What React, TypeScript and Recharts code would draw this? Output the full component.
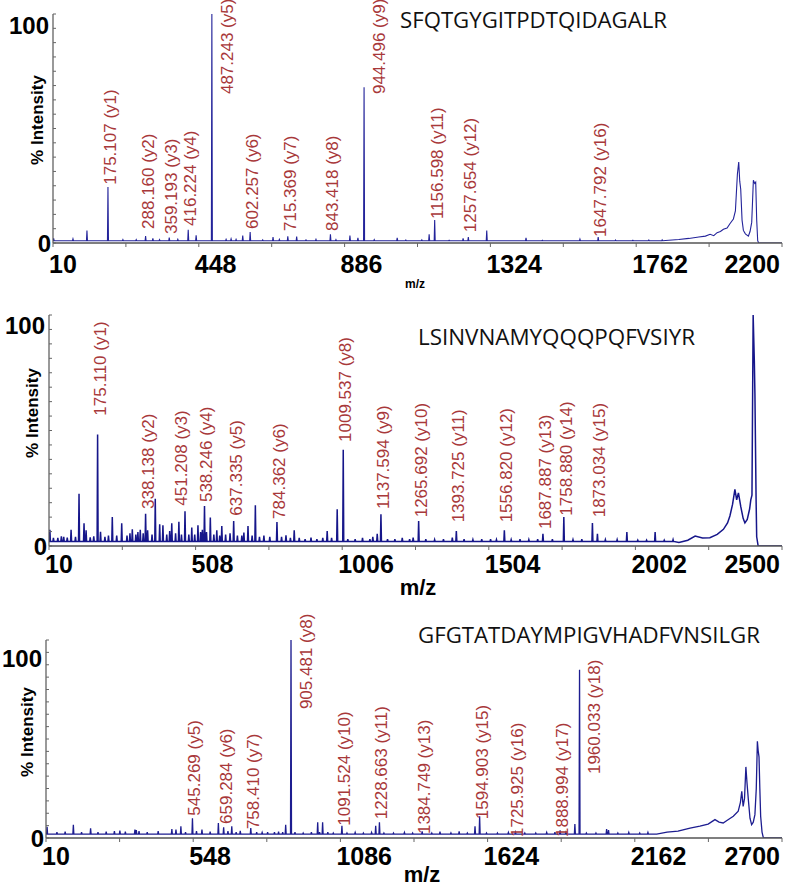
import React from 'react';
import { ComposedChart, Line, XAxis, YAxis, ReferenceDot } from 'recharts';

type Pt = [number, number];
type Ann = [number, string, number];

// ---------- Panel 1 : SFQTGYGITPDTQIDAGALR ----------
const title1 = 'SFQTGYGITPDTQIDAGALR';
const peaks1: Pt[] = [
  [12, 2], [70, 1.8], [112, 5.5], [175.107, 24.5], [220, 1.5], [260, 1.5], [288.16, 3],
  [310, 2], [330, 1.5], [359.193, 2.4], [385, 1.6], [416.224, 5.8], [440, 3.4], [487.243, 100],
  [530, 1.6], [545, 1.8], [560, 1.6], [580, 3.2], [602.257, 4.8], [640, 1.4], [671, 2.6],
  [690, 1.6], [715.369, 2.9], [742, 2.8], [770, 1.4], [800, 1.6], [843.418, 3.8], [860, 1.5],
  [902, 3.2], [926, 2.3], [944.496, 68], [975, 1.5], [1044, 2.2], [1070, 1.3], [1118, 1.4],
  [1140, 3.8], [1156.598, 10], [1200, 1.2], [1242, 2], [1257.654, 2.6], [1313, 5.5],
  [1431, 2.2], [1480, 1.2], [1593, 1.7], [1647.792, 2.6], [1700, 1.3], [1752, 1.2],
  [1800, 1.3], [1840, 1.4],
];
const profile1: Pt[] = [
  [1860, 1.2], [1890, 1.5], [1920, 2], [1950, 2.6], [1970, 3], [1984, 3.8], [1995, 3.2],
  [2005, 4.5], [2015, 5], [2024, 6], [2035, 6.5], [2044, 8.5], [2054, 10.5], [2060, 14],
  [2066, 30], [2070, 35.4], [2073, 27], [2076, 23.5], [2080, 10], [2084, 5.5], [2090, 4],
  [2099, 3], [2104, 5], [2109, 9], [2112, 20], [2114, 27.4], [2118, 26], [2121, 26.6],
  [2124, 10], [2127, 1], [2130, 0], [2200, 0],
];
const annotations1: Ann[] = [
  [175.107, '175.107 (y1)', 25], [288.16, '288.160 (y2)', 5.7], [359.193, '359.193 (y3)', 3.5],
  [416.224, '416.224 (y4)', 7], [487.243, '487.243 (y5)', 64.6], [602.257, '602.257 (y6)', 5.7],
  [715.369, '715.369 (y7)', 4.8], [843.418, '843.418 (y8)', 4.8], [944.496, '944.496 (y9)', 64.6],
  [1156.598, '1156.598 (y11)', 10], [1257.654, '1257.654 (y12)', 4.3], [1647.792, '1647.792 (y16)', 2.2],
];
const xTicks1 = [10, 229, 448, 667, 886, 1105, 1324, 1543, 1762, 1981, 2200];
const xLabels1 = [10, 448, 886, 1324, 1762, 2200];

// ---------- Panel 2 : LSINVNAMYQQQPQFVSIYR ----------
const title2 = 'LSINVNAMYQQQPQFVSIYR';
const peaks2: Pt[] = [
  [13, 7], [25, 3.5], [40, 3.5], [52, 4.2], [60, 4], [72, 3.6], [85, 7], [100, 4], [112, 22.6],
  [129, 9.8], [136, 6.8], [150, 3.8], [162, 4.2], [175.11, 48.3], [185, 6.2], [200, 4],
  [212, 4.5], [225, 12.5], [240, 4.5], [257, 9.8], [275, 4.5], [285, 5.5], [293, 7.2],
  [305, 5], [312, 6], [320, 7], [330, 5.5], [338.138, 14], [345, 6.8], [360, 5], [371, 20.5],
  [386, 9.4], [397, 9], [410, 5], [420, 6.5], [427, 9.8], [440, 5.5], [451.208, 10.5],
  [460, 5], [472, 15], [485, 5], [495, 8], [505, 5], [516, 9], [525, 6], [531, 7],
  [538.246, 17.3], [545, 6], [558, 12.3], [570, 5], [580, 6.8], [590, 4.5], [597, 8.7],
  [610, 5], [625, 5.5], [637.335, 10.8], [650, 4.5], [665, 4.5], [672, 5.8], [686, 8.7],
  [700, 4.5], [711, 17.6], [725, 4], [740, 4.5], [760, 4], [784.362, 10.4], [800, 4],
  [815, 4.6], [830, 3.5], [843, 6.8], [860, 3.5], [880, 3], [900, 3.6], [920, 3], [940, 3.5],
  [955, 6.5], [970, 3.5], [989, 15.9], [1009.537, 41.7], [1025, 3], [1050, 3], [1075, 3.5],
  [1100, 3], [1110, 4], [1125, 5.3], [1137.594, 13.7], [1160, 3], [1185, 3], [1210, 3.5],
  [1235, 3], [1247, 3.6], [1265.692, 10.8], [1290, 3], [1320, 2.8], [1350, 3], [1380, 3.6],
  [1393.725, 6.5], [1420, 3], [1450, 2.8], [1480, 3], [1510, 3], [1530, 2.8],
  [1556.82, 6.8], [1580, 2.8], [1610, 3], [1640, 2.8], [1670, 3], [1687.887, 5.3],
  [1720, 3], [1758.88, 12.6], [1790, 2.8], [1820, 3], [1856, 10], [1873.034, 5.3],
  [1900, 2.8], [1940, 2.8], [1973, 6], [2010, 2.5], [2040, 2.5], [2069, 6], [2100, 2.5],
  [2130, 2.8],
];
const profile2: Pt[] = [
  [2150, 1.5], [2180, 2.5], [2205, 4.3], [2230, 3.5], [2255, 3.6], [2280, 5], [2301, 7.2],
  [2315, 10], [2323, 13], [2332, 18], [2340, 24.5], [2346, 20], [2352, 23], [2360, 17],
  [2368, 12], [2374, 10], [2382, 11.5], [2390, 16], [2394, 20], [2398, 22], [2402, 100],
  [2406, 80], [2408, 66], [2412, 20], [2414, 4], [2419, 0], [2500, 0],
];
const annotations2: Ann[] = [
  [175.11, '175.110 (y1)', 56], [338.138, '338.138 (y2)', 15.6], [451.208, '451.208 (y3)', 17],
  [538.246, '538.246 (y4)', 18.6], [637.335, '637.335 (y5)', 12.7], [784.362, '784.362 (y6)', 11.3],
  [1009.537, '1009.537 (y8)', 44.6], [1137.594, '1137.594 (y9)', 15.6],
  [1265.692, '1265.692 (y10)', 12], [1393.725, '1393.725 (y11)', 9.8],
  [1556.82, '1556.820 (y12)', 9.8], [1687.887, '1687.887 (y13)', 6.9],
  [1758.88, '1758.880 (y14)', 12.7], [1873.034, '1873.034 (y15)', 12],
];
const xTicks2 = [10, 259, 508, 757, 1006, 1255, 1504, 1753, 2002, 2251, 2500];
const xLabels2 = [10, 508, 1006, 1504, 2002, 2500];

// ---------- Panel 3 : GFGTATDAYMPIGVHADFVNSILGR ----------
const title3 = 'GFGTATDAYMPIGVHADFVNSILGR';
const peaks3: Pt[] = [
  [14, 5.7], [50, 3], [80, 3.2], [110, 6.7], [140, 3], [173, 4.9], [200, 3], [230, 3.2],
  [260, 3.5], [280, 3.7], [300, 3.2], [335, 4.2], [340, 4], [350, 3.5], [380, 3], [420, 3.5],
  [470, 4.5], [485, 4.2], [503, 5.9], [520, 3], [545.269, 10], [560, 3.5], [580, 4.2],
  [610, 3.2], [640, 7.6], [659.284, 5.4], [675, 3.5], [689, 5.9], [705, 3], [720, 3.6],
  [758.41, 5], [780, 3], [800, 2.8], [820, 3], [845, 3], [860, 3.2], [875, 3], [886, 6.7],
  [905.481, 100], [920, 3], [950, 2.5], [980, 3], [1003, 7.9], [1010, 3], [1021, 7.9],
  [1040, 3], [1060, 2.5], [1091.524, 6.2], [1110, 2.5], [1140, 2.8], [1170, 2.5], [1200, 2.8],
  [1215, 6.2], [1228.663, 7.9], [1245, 2.5], [1280, 2.5], [1320, 2.8], [1350, 2.5],
  [1384.749, 3.4], [1420, 2.5], [1450, 3.2], [1490, 2.6], [1520, 3.4], [1550, 2.5],
  [1578, 5.9], [1594.903, 11], [1620, 2.5], [1660, 2.5], [1700, 2.8], [1725.925, 2.9],
  [1760, 2.5], [1800, 2.5], [1840, 2.8], [1870, 3], [1888.994, 3.9], [1910, 2.8], [1943, 7],
  [1960.033, 85], [1985, 2.5], [2020, 2.5], [2059, 4.5], [2066, 4], [2100, 2.5], [2140, 2.8],
  [2180, 2.5], [2210, 2.8],
];
const profile3: Pt[] = [
  [2242, 2], [2280, 3], [2320, 3.5], [2364, 5], [2400, 6], [2430, 7], [2455, 9.3], [2470, 8],
  [2485, 7.6], [2500, 9], [2522, 11], [2540, 13.5], [2548, 18], [2553, 23.6], [2558, 16],
  [2563, 20], [2568, 35.9], [2572, 28], [2577, 19.4], [2583, 10], [2589, 6.7], [2595, 8],
  [2601, 11.8], [2606, 25], [2610, 48.8], [2613, 44], [2616, 41], [2619, 25], [2622, 11],
  [2627, 3], [2632, 0], [2700, 0],
];
const annotations3: Ann[] = [
  [545.269, '545.269 (y5)', 10.8], [659.284, '659.284 (y6)', 6.6], [758.41, '758.410 (y7)', 4],
  [905.481, '905.481 (y8)', 64.6], [1091.524, '1091.524 (y10)', 5.7],
  [1228.663, '1228.663 (y11)', 9], [1384.749, '1384.749 (y13)', 1.5],
  [1594.903, '1594.903 (y15)', 9], [1725.925, '1725.925 (y16)', 0],
  [1888.994, '1888.994 (y17)', 0], [1960.033, '1960.033 (y18)', 31.8],
];
const xTicks3 = [10, 279, 548, 817, 1086, 1355, 1624, 1893, 2162, 2431, 2700];
const xLabels3 = [10, 548, 1086, 1624, 2162, 2700];

const yTicks = [0, 6.25, 12.5, 18.75, 25, 31.25, 37.5, 43.75, 50, 56.25, 62.5, 68.75, 75, 81.25, 87.5, 93.75, 100];

const FONT = 'Liberation Sans, Arial, sans-serif';
const LABEL_RED = '#a8383a';

function buildTrace(peaks: Pt[], profile: Pt[], base: number, hw: number, start: number) {
  const pts: { mz: number; v: number }[] = [{ mz: start, v: base }];
  peaks.forEach(([m, h]) => {
    pts.push({ mz: m - hw, v: base }, { mz: m, v: h }, { mz: m + hw, v: base });
  });
  profile.forEach(([m, h]) => pts.push({ mz: m, v: h }));
  pts.sort((a, b) => a.mz - b.mz);
  return pts;
}

type Cfg = {
  top: number;
  height: number;
  margin: { top: number; right: number; bottom: number; left: number };
  yAxisWidth: number;
  xDomain: [number, number];
  xTicks: number[];
  xLabels: number[];
  peaks: Pt[];
  profile: Pt[];
  base: number;
  hw: number;
  annotations: Ann[];
  stroke: string;
  strokeWidth: number;
  hundredDy: number;
  xLabelDy: number;
  title: string;
  titleX: number;
  titleY: number;
  titleLen: number;
  yTitleX: number;
  yTitleY: number;
  mzX: number;
  mzY: number;
  mzSize: number;
};

function Panel({ cfg }: { cfg: Cfg }) {
  const data = buildTrace(cfg.peaks, cfg.profile, cfg.base, cfg.hw, cfg.xDomain[0]);
  const last = cfg.xDomain[1];
  const xTick = (p: any) => {
    const { x, y, payload } = p;
    const v = payload.value;
    const show = cfg.xLabels.includes(v);
    const isLast = v === last;
    return (
      <g>
        <line x1={x} x2={x} y1={y} y2={y + 4} stroke="#666" strokeWidth={1} />
        {show && (
          <text x={isLast ? x - 2 : x - 4} y={y + cfg.xLabelDy} textAnchor={isLast ? 'end' : 'start'}
            fontFamily={FONT} fontWeight="bold" fontSize={25} fill="#000">{v}</text>
        )}
      </g>
    );
  };
  const yTick = (p: any) => {
    const { x, y, payload } = p;
    const v = payload.value;
    return (
      <g>
        <line x1={x} x2={x + 3} y1={y} y2={y} stroke="#666" strokeWidth={1} />
        {(v === 0 || v === 100) && (
          <text x={v === 100 ? x - 4 : x - 2} y={y + (v === 100 ? cfg.hundredDy : 0) + 8.5} textAnchor="end"
            fontFamily={FONT} fontWeight="bold" fontSize={24} fill="#000">{v}</text>
        )}
      </g>
    );
  };
  return (
    <div style={{ position: 'absolute', left: 0, top: cfg.top, width: 788, height: cfg.height }}>
      <ComposedChart width={788} height={cfg.height} data={data} margin={cfg.margin}>
        <XAxis type="number" dataKey="mz" domain={cfg.xDomain} ticks={cfg.xTicks} interval={0}
          allowDataOverflow tickSize={0} tickMargin={0} tickLine={false} height={40}
          axisLine={{ stroke: '#555', strokeWidth: 1.5 }} tick={xTick} />
        <YAxis yAxisId="l" type="number" domain={[0, 100]} ticks={yTicks} interval={0} width={cfg.yAxisWidth}
          allowDataOverflow tickSize={0} tickMargin={0} tickLine={false}
          axisLine={{ stroke: '#555', strokeWidth: 1.2 }} tick={yTick} />
        <YAxis yAxisId="r" orientation="right" type="number" domain={[0, 100]} width={0}
          tick={false} tickLine={false} axisLine={{ stroke: '#777', strokeWidth: 1.2 }} />
        <Line yAxisId="l" type="linear" dataKey="v" stroke={cfg.stroke} strokeWidth={cfg.strokeWidth}
          dot={false} activeDot={false} isAnimationActive={false} />
        {cfg.annotations.map(([mz, text, level]) => {
          const h = (cfg.peaks.find((pk) => pk[0] === mz) || [mz, 0])[1];
          const beside = h > 30 && level < h - 2;
          return (
            <ReferenceDot key={text} yAxisId="l" x={mz} y={level} ifOverflow="visible"
              shape={(p: any) => {
                const cx = p.cx + (beside ? 15 : 2);
                const cy = p.cy - 1;
                return (
                  <text x={cx} y={cy} dy="0.35em" transform={`rotate(-90 ${cx} ${cy})`}
                    fontFamily={FONT} fontSize={17} fill={LABEL_RED}>{text}</text>
                );
              }} />
          );
        })}
      </ComposedChart>
      <svg width={788} height={cfg.height} style={{ position: 'absolute', left: 0, top: 0, overflow: 'visible', pointerEvents: 'none' }}>
        <text x={cfg.titleX} y={cfg.titleY} fontFamily="Open Sans, Noto Sans, sans-serif" fontSize={21}
          textLength={cfg.titleLen} lengthAdjust="spacingAndGlyphs" fill="#111">{cfg.title}</text>
        <text x={cfg.yTitleX} y={cfg.yTitleY} transform={`rotate(-90 ${cfg.yTitleX} ${cfg.yTitleY})`}
          textAnchor="middle" dy="0.35em" fontFamily={FONT} fontWeight="bold" fontSize={17} fill="#000">% Intensity</text>
        <text x={cfg.mzX} y={cfg.mzY} textAnchor="middle" fontFamily={FONT} fontWeight="bold"
          fontSize={cfg.mzSize} fill="#000">m/z</text>
      </svg>
    </div>
  );
}

const cfg1: Cfg = {
  top: 0, height: 290, margin: { top: 14, right: 6, bottom: 7, left: 0 }, yAxisWidth: 53,
  xDomain: [10, 2200], xTicks: xTicks1, xLabels: xLabels1, peaks: peaks1, profile: profile1,
  base: 1, hw: 1.5, annotations: annotations1, stroke: '#23239a', strokeWidth: 1.1,
  hundredDy: 11, xLabelDy: 30, title: title1, titleX: 400, titleY: 28, titleLen: 267,
  yTitleX: 37, yTitleY: 120, mzX: 415, mzY: 288, mzSize: 12,
};
const cfg2: Cfg = {
  top: 290, height: 300, margin: { top: 25, right: 6, bottom: 4, left: 0 }, yAxisWidth: 49,
  xDomain: [10, 2500], xTicks: xTicks2, xLabels: xLabels2, peaks: peaks2, profile: profile2,
  base: 2, hw: 1.7, annotations: annotations2, stroke: '#16168a', strokeWidth: 1.5,
  hundredDy: 10, xLabelDy: 27, title: title2, titleX: 418, titleY: 55, titleLen: 277,
  yTitleX: 32, yTitleY: 123, mzX: 418, mzY: 305, mzSize: 22,
};
const cfg3: Cfg = {
  top: 590, height: 302, margin: { top: 50, right: 6, bottom: 14, left: 0 }, yAxisWidth: 46,
  xDomain: [10, 2700], xTicks: xTicks3, xLabels: xLabels3, peaks: peaks3, profile: profile3,
  base: 2, hw: 1.8, annotations: annotations3, stroke: '#1d1d90', strokeWidth: 1.3,
  hundredDy: 18, xLabelDy: 27, title: title3, titleX: 418, titleY: 53, titleLen: 342,
  yTitleX: 27, yTitleY: 142, mzX: 422, mzY: 292, mzSize: 22,
};

export default function App() {
  return (
    <div style={{ position: 'absolute', left: 0, top: 0, width: 788, height: 892, background: '#fff', overflow: 'hidden' }}>
      <Panel cfg={cfg1} />
      <Panel cfg={cfg2} />
      <Panel cfg={cfg3} />
    </div>
  );
}
